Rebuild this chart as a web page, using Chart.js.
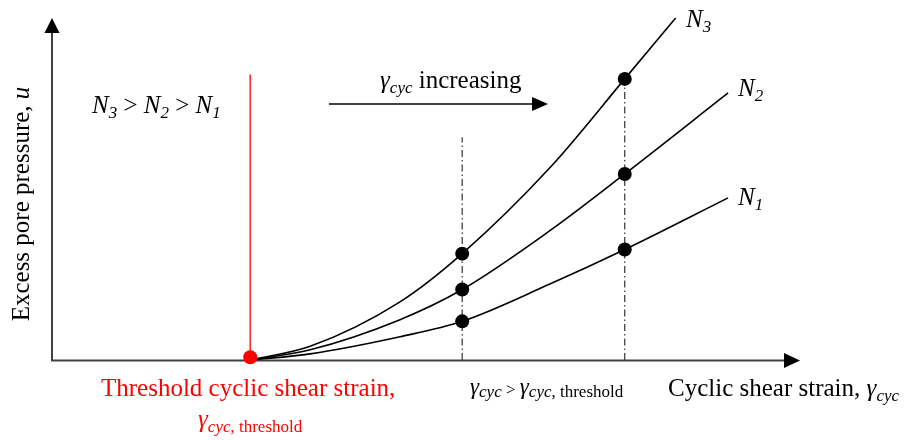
<!DOCTYPE html>
<html>
<head>
<meta charset="utf-8">
<script src="https://cdn.jsdelivr.net/npm/chart.js@4.4.1/dist/chart.umd.min.js"></script>
<style>
  html, body { margin: 0; padding: 0; background: #fff; }
  #wrap { width: 909px; height: 440px; }
</style>
</head>
<body>
<div id="wrap"><canvas id="chart"></canvas></div>
<script>
// values (arbitrary units, axes 0..10)
const strain = [2.66, 3.46, 4.66, 5.49, 6.66, 7.66, 8.34, 9.04];
const poreN3 = [0, 0.40, 1.70, 3.11, 5.62, 8.22, 10.0, null];
const poreN2 = [0, 0.30, 1.18, 2.06, 3.78, 5.44, null, 7.81];
const poreN1 = [0, 0.18, 0.68, 1.13, 2.22, 3.23, null, 4.74];
const thresholdStrain = 2.66;
const thresholdLineTop = 8.35;
const checkStrains = [5.49, 7.66];
const checkLineTops = [6.51, 8.22];

const SERIF = '"Liberation Serif", "Times New Roman", serif';
const big = '25px ' + SERIF;
const bigI = 'italic 25px ' + SERIF;
const sub = '17px ' + SERIF;
const subI = 'italic 17px ' + SERIF;

const toPoints = ys => strain.map((x, i) => ({ x, y: ys[i] })).filter(p => p.y !== null);
const curves = [poreN1, poreN2, poreN3].map(toPoints);
const dots = curves.flatMap(pts => pts.filter(p => checkStrains.includes(p.x)));

function drawRich(ctx, x, y, parts, color) {
    ctx.fillStyle = color;
    ctx.textAlign = 'left';
    ctx.textBaseline = 'alphabetic';
    for (const [text, font, dy] of parts) {
        ctx.font = font;
        ctx.fillText(text, x, y + (dy || 0));
        x += ctx.measureText(text).width;
    }
}

function richWidth(ctx, parts) {
    let w = 0;
    for (const [text, font] of parts) { ctx.font = font; w += ctx.measureText(text).width; }
    return w;
}

const decor = {
    id: 'decor',
    beforeDatasetsDraw(chart) {
        const ctx = chart.ctx;
        const a = chart.chartArea;
        ctx.save();
        ctx.strokeStyle = '#404040';
        ctx.fillStyle = '#000';
        ctx.lineWidth = 2;
        // axes with arrowheads
        ctx.beginPath();
        ctx.moveTo(a.left + 1, a.bottom + 0.5);
        ctx.lineTo(a.left + 1, a.top + 14);
        ctx.moveTo(a.left, a.bottom + 0.5);
        ctx.lineTo(a.right - 14, a.bottom + 0.5);
        ctx.stroke();
        ctx.beginPath();
        ctx.moveTo(a.left + 1, a.top);
        ctx.lineTo(a.left + 8.5, a.top + 15);
        ctx.lineTo(a.left - 6.5, a.top + 15);
        ctx.closePath();
        ctx.fill();
        ctx.beginPath();
        ctx.moveTo(a.right, a.bottom + 0.5);
        ctx.lineTo(a.right - 16, a.bottom - 7);
        ctx.lineTo(a.right - 16, a.bottom + 8);
        ctx.closePath();
        ctx.fill();
        ctx.restore();
    },
    afterDraw(chart) {
        const ctx = chart.ctx;
        ctx.save();
        // "increasing" arrow
        ctx.strokeStyle = '#000';
        ctx.lineWidth = 1.5;
        ctx.beginPath();
        ctx.moveTo(329, 104);
        ctx.lineTo(534, 104);
        ctx.stroke();
        ctx.fillStyle = '#000';
        ctx.beginPath();
        ctx.moveTo(548, 104);
        ctx.lineTo(532, 97);
        ctx.lineTo(532, 111);
        ctx.closePath();
        ctx.fill();

        drawRich(ctx, 380, 88, [['γ', bigI], ['cyc', subI, 5], [' increasing', big]], '#000');
        drawRich(ctx, 92, 113, [['N', bigI], ['3', subI, 5], [' > ', big], ['N', bigI], ['2', subI, 5], [' > ', big], ['N', bigI], ['1', subI, 5]], '#000');
        drawRich(ctx, 686, 27, [['N', bigI], ['3', subI, 5]], '#000');
        drawRich(ctx, 738, 96, [['N', bigI], ['2', subI, 5]], '#000');
        drawRich(ctx, 738, 205, [['N', bigI], ['1', subI, 5]], '#000');

        drawRich(ctx, 101, 396, [['Threshold cyclic shear strain,', big]], '#ff0000');
        drawRich(ctx, 198, 427, [['γ', bigI], ['cyc', subI, 5], [', threshold', sub, 5]], '#ff0000');

        drawRich(ctx, 470, 394, [['γ', 'italic 23px ' + SERIF], ['cyc', subI, 3], [' > ', sub, 1], ['γ', 'italic 23px ' + SERIF], ['cyc', subI, 3], [', threshold', sub, 3]], '#000');
        drawRich(ctx, 668, 396, [['Cyclic shear strain, ', big], ['γ', bigI], ['cyc', subI, 5]], '#000');

        // y axis title
        const yParts = [['Excess pore pressure, ', big], ['u', bigI]];
        ctx.translate(29, 204);
        ctx.rotate(-Math.PI / 2);
        drawRich(ctx, -richWidth(ctx, yParts) / 2, 0, yParts, '#000');
        ctx.restore();
    }
};

const vline = (x, top) => [{ x, y: 0 }, { x, y: top }];

new Chart(document.getElementById('chart').getContext('2d'), {
    type: 'line',
    data: {
        datasets: [
            {
                data: dots, showLine: false, pointRadius: 7, pointHoverRadius: 7,
                pointBackgroundColor: '#000', pointBorderWidth: 0, order: 0, clip: false
            },
            {
                data: [{ x: thresholdStrain, y: 0.08 }], showLine: false, pointRadius: 7,
                pointBackgroundColor: '#ff0000', pointBorderWidth: 0, order: 0, clip: false
            },
            ...curves.map(pts => ({
                data: pts, borderColor: '#000', borderWidth: 1.6, pointRadius: 0,
                cubicInterpolationMode: 'monotone', order: 1, clip: false
            })),
            {
                data: vline(thresholdStrain, thresholdLineTop), borderColor: '#ff2a2a',
                borderWidth: 1.6, pointRadius: 0, order: 2, clip: false
            },
            ...checkStrains.map((x, i) => ({
                data: vline(x, checkLineTops[i]), borderColor: '#333', borderWidth: 1.2,
                borderDash: [7, 3, 1.5, 3], pointRadius: 0, order: 2, clip: false
            }))
        ]
    },
    options: {
        responsive: true,
        maintainAspectRatio: false,
        animation: false,
        events: [],
        layout: { padding: { left: 51, right: 109, top: 18, bottom: 80 } },
        scales: {
            x: { type: 'linear', min: 0, max: 10, display: false },
            y: { type: 'linear', min: 0, max: 10, display: false }
        },
        plugins: {
            legend: { display: false },
            tooltip: { enabled: false },
            title: { display: false }
        }
    },
    plugins: [decor]
});
</script>
</body>
</html>
